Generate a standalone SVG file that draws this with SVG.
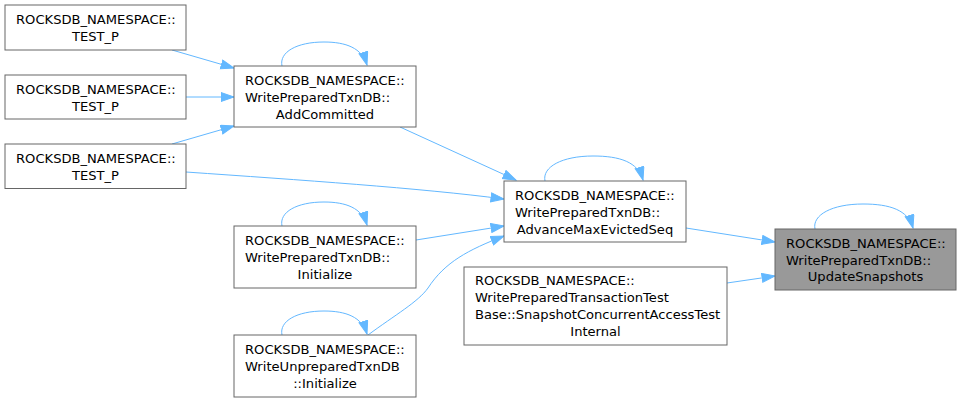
<svg xmlns="http://www.w3.org/2000/svg" width="962" height="403" viewBox="0 0 962 403">
<defs>
<style>
.n rect{fill:#ffffff;stroke:#666666;stroke-width:1}
.n.hl rect{fill:#999999}
.n text{font-family:"DejaVu Sans",sans-serif;font-size:13.1px;fill:#000000}
.n text.m{text-anchor:middle}
.e path{fill:none;stroke:#63b8ff;stroke-width:1;marker-end:url(#ah)}
</style>
<marker id="ah" markerUnits="userSpaceOnUse" markerWidth="15" markerHeight="12" refX="13.5" refY="5" orient="auto">
<path d="M0.5,0.5 L13.5,5 L0.5,9.5 z" fill="#63b8ff" stroke="#63b8ff" stroke-width="1"/>
</marker>
</defs>
<rect width="962" height="403" fill="#ffffff"/>
<g id="edges" class="e">
<path d="M172,50 L234,68"/>
<path d="M186,97 L234,97"/>
<path d="M172,144 L234,126"/>
<path d="M186,172 C300,180 420,188 504,199"/>
<path d="M400,127 L516,180"/>
<path d="M416,240 L504,226"/>
<path d="M368,335 C395,315 418,302 428,288 C445,262 468,250 504,236"/>
<path d="M686,228 L775,242"/>
<path d="M727,283 L775,276"/>
<path d="M282,66 C279,52 297,42 324,42 C346,42 362,48 367,65"/>
<path d="M282,226 C279,212 297,202 324,202 C346,202 362,208 367,225"/>
<path d="M282,335 C279,321 297,311 324,311 C346,311 362,317 367,334"/>
<path d="M545,181 C542,167 562,156 593,156 C620,156 638,162 643,180"/>
<path d="M815,229 C812,215 832,204 863,204 C890,204 908,210 913,228"/>
</g>
<g id="node_test_p1" class="n">
<rect x="5" y="5" width="181" height="45"/>
<text x="16" y="23.5">ROCKSDB_NAMESPACE::</text>
<text class="m" x="95.5" y="40.5">TEST_P</text>
</g>
<g id="node_test_p2" class="n">
<rect x="5" y="75" width="181" height="44"/>
<text x="16" y="93.5">ROCKSDB_NAMESPACE::</text>
<text class="m" x="95.5" y="110.5">TEST_P</text>
</g>
<g id="node_test_p3" class="n">
<rect x="5" y="144" width="181" height="44.5"/>
<text x="16" y="162.5">ROCKSDB_NAMESPACE::</text>
<text class="m" x="95.5" y="179.5">TEST_P</text>
</g>
<g id="node_addcommitted" class="n">
<rect x="234" y="66" width="182" height="61"/>
<text x="245" y="84.5">ROCKSDB_NAMESPACE::</text>
<text x="245" y="101.5">WritePreparedTxnDB::</text>
<text class="m" x="325" y="118.5">AddCommitted</text>
</g>
<g id="node_wp_initialize" class="n">
<rect x="234" y="226" width="182" height="62"/>
<text x="245" y="244.5">ROCKSDB_NAMESPACE::</text>
<text x="245" y="261.5">WritePreparedTxnDB::</text>
<text class="m" x="325" y="278.5">Initialize</text>
</g>
<g id="node_wu_initialize" class="n">
<rect x="234" y="335" width="182" height="62"/>
<text x="245" y="353.5">ROCKSDB_NAMESPACE::</text>
<text x="245" y="370.5">WriteUnpreparedTxnDB</text>
<text class="m" x="325" y="387.5">::Initialize</text>
</g>
<g id="node_advancemaxevictedseq" class="n">
<rect x="504" y="181" width="182" height="61"/>
<text x="515" y="199.5">ROCKSDB_NAMESPACE::</text>
<text x="515" y="216.5">WritePreparedTxnDB::</text>
<text class="m" x="595" y="233.5">AdvanceMaxEvictedSeq</text>
</g>
<g id="node_snapshotconcurrent" class="n">
<rect x="464" y="267" width="263" height="78"/>
<text x="475" y="285">ROCKSDB_NAMESPACE::</text>
<text x="475" y="302">WritePreparedTransactionTest</text>
<text x="475" y="319">Base::SnapshotConcurrentAccessTest</text>
<text class="m" x="595.5" y="336">Internal</text>
</g>
<g id="node_updatesnapshots" class="n hl">
<rect x="775" y="229" width="181" height="61"/>
<text x="786" y="247.5">ROCKSDB_NAMESPACE::</text>
<text x="786" y="264.5">WritePreparedTxnDB::</text>
<text class="m" x="865.5" y="281">UpdateSnapshots</text>
</g>
</svg>
